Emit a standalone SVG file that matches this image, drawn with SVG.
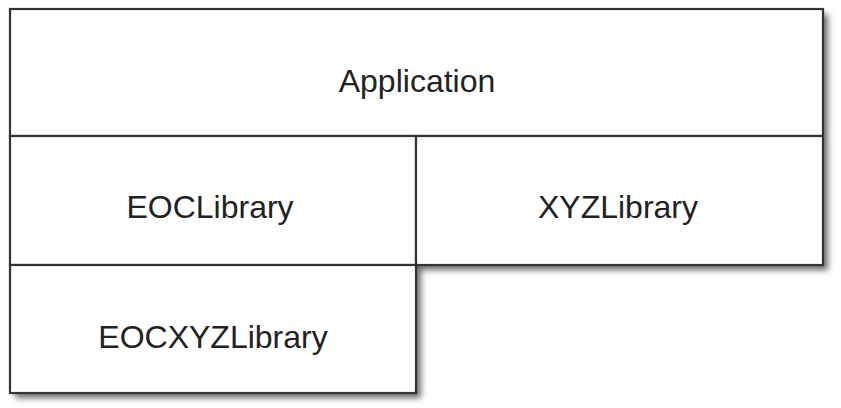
<svg xmlns="http://www.w3.org/2000/svg" width="841" height="408" viewBox="0 0 841 408">
<defs>
<filter id="sh" x="-5%" y="-5%" width="115%" height="120%">
<feGaussianBlur stdDeviation="3"/>
</filter>
<style>
.box{fill:#fff;stroke:#333;stroke-width:2.2}
.lbl{font-family:"Liberation Sans",Arial,sans-serif;font-size:32px;fill:#222;text-anchor:middle}
</style>
</defs>
<rect width="841" height="408" fill="#fff"/>
<path d="M15 14 H828 V270 H421 V398 H15 Z" fill="#6a6a6a" filter="url(#sh)"/>
<g id="application">
<rect class="box" x="10" y="9" width="813" height="127"/>
<text class="lbl" x="417" y="92">Application</text>
</g>
<g id="eoclibrary">
<rect class="box" x="10" y="136" width="406" height="129"/>
<text class="lbl" x="210" y="218">EOCLibrary</text>
</g>
<g id="xyzlibrary">
<rect class="box" x="416" y="136" width="407" height="129"/>
<text class="lbl" x="618" y="218">XYZLibrary</text>
</g>
<g id="eocxyzlibrary">
<rect class="box" x="10" y="265" width="406" height="128"/>
<text class="lbl" x="213" y="348">EOCXYZLibrary</text>
</g>
<g id="connectors"/>
</svg>
